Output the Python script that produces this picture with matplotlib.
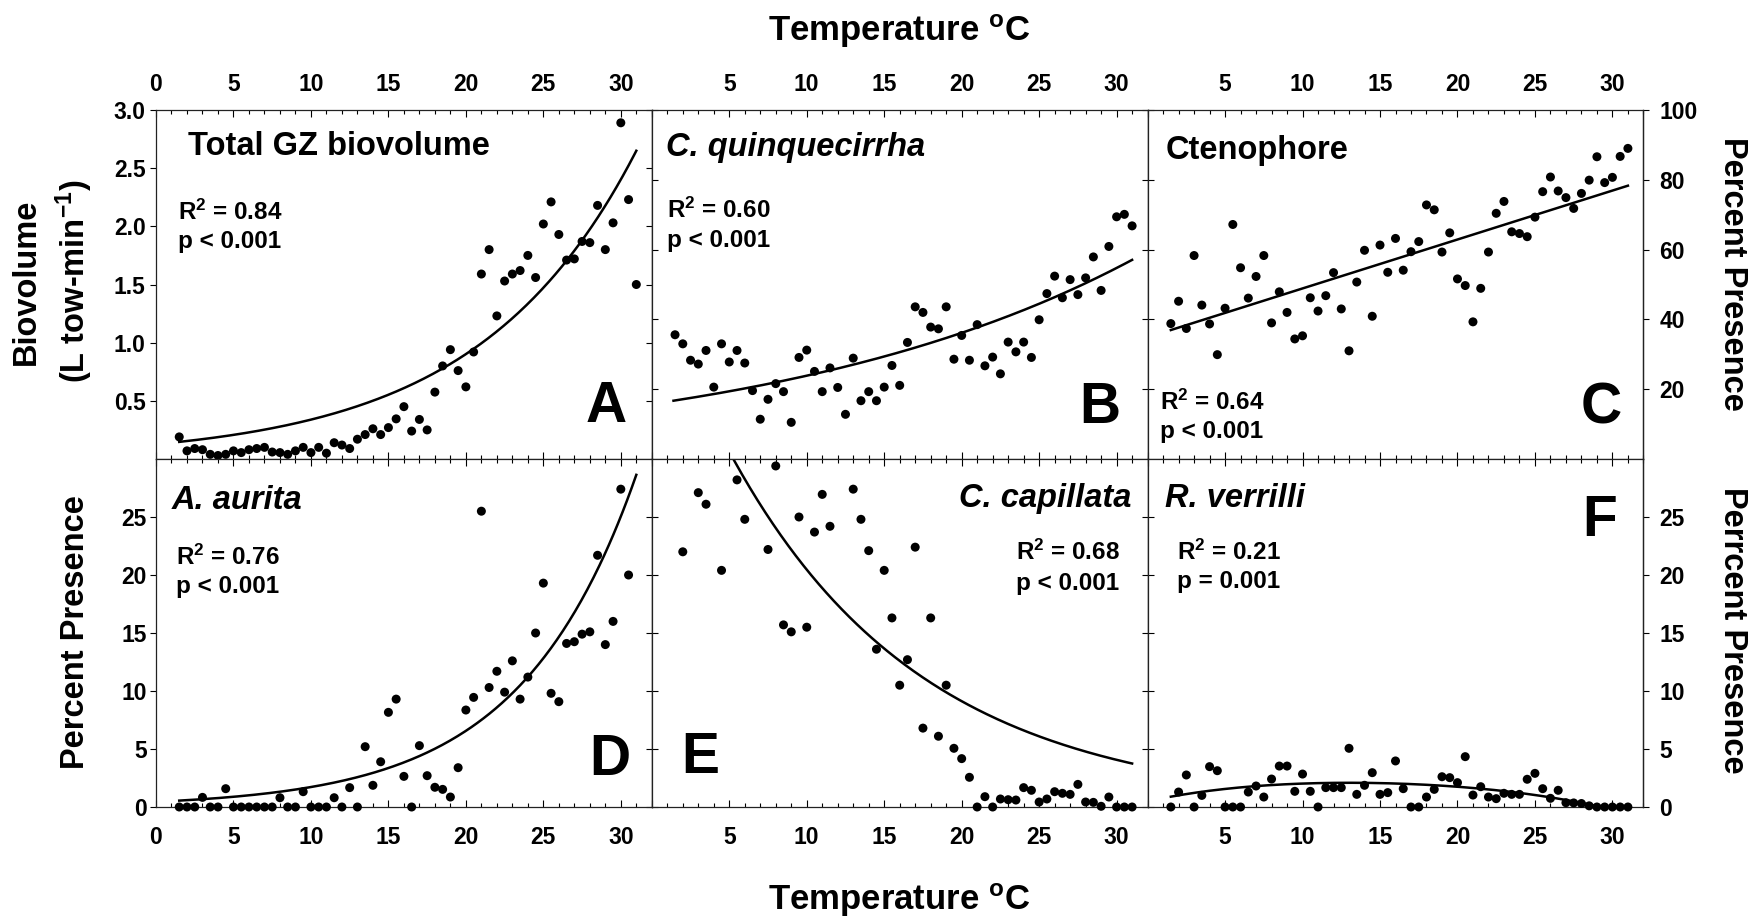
import numpy as np
import matplotlib
matplotlib.use('Agg')
import matplotlib.pyplot as plt
from matplotlib.ticker import MultipleLocator, FuncFormatter

plt.rcParams['font.family'] = 'Liberation Sans'
plt.rcParams['font.weight'] = 'bold'
plt.rcParams['mathtext.fontset'] = 'custom'
plt.rcParams['mathtext.rm'] = 'Liberation Sans:bold'
plt.rcParams['mathtext.it'] = 'Liberation Sans:italic:bold'
plt.rcParams['mathtext.bf'] = 'Liberation Sans:bold'
plt.rcParams['mathtext.default'] = 'rm'

# temperature bins (deg C)
temps = [1.5, 2.0, 2.5, 3.0, 3.5, 4.0, 4.5, 5.0, 5.5, 6.0,
         6.5, 7.0, 7.5, 8.0, 8.5, 9.0, 9.5, 10.0, 10.5, 11.0,
         11.5, 12.0, 12.5, 13.0, 13.5, 14.0, 14.5, 15.0, 15.5, 16.0,
         16.5, 17.0, 17.5, 18.0, 18.5, 19.0, 19.5, 20.0, 20.5, 21.0,
         21.5, 22.0, 22.5, 23.0, 23.5, 24.0, 24.5, 25.0, 25.5, 26.0,
         26.5, 27.0, 27.5, 28.0, 28.5, 29.0, 29.5, 30.0, 30.5, 31.0]

nan = np.nan

# A: total GZ biovolume (L tow-min-1)
gz_biovol = [0.19, 0.07, 0.09, 0.08, 0.04, 0.03, 0.04, 0.07, 0.055, 0.08,
             0.09, 0.10, 0.06, 0.055, 0.04, 0.07, 0.10, 0.055, 0.10, 0.05,
             0.14, 0.12, 0.09, 0.17, 0.21, 0.26, 0.21, 0.27, 0.345, 0.45,
             0.24, 0.34, 0.25, 0.575, 0.80, 0.94, 0.76, 0.62, 0.92, 1.59,
             1.80, 1.23, 1.53, 1.59, 1.62, 1.75, 1.56, 2.02, 2.21, 1.93,
             1.71, 1.72, 1.87, 1.86, 2.18, 1.80, 2.03, 2.89, 2.23, 1.50]

# B: C. quinquecirrha percent presence
cq_pct = [35.6, 33.0, 28.3, 27.2, 31.1, 20.6, 33.0, 27.8, 31.1, 27.5,
          19.6, 11.4, 17.1, 21.6, 19.3, 10.5, 29.1, 31.2, 25.1, 19.3,
          26.1, 20.5, 12.8, 28.9, 16.7, 19.3, 16.7, 20.6, 26.8, 21.1,
          33.4, 43.6, 42.0, 37.8, 37.3, 43.6, 28.6, 35.4, 28.3, 38.5,
          26.7, 29.2, 24.4, 33.5, 30.7, 33.5, 29.1, 39.9, 47.4, 52.4,
          46.2, 51.4, 47.1, 51.9, 57.9, 48.3, 60.9, 69.4, 70.1, 66.8]

# C: ctenophore percent presence
cten_pct = [38.8, 45.2, 37.4, 58.3, 44.1, 38.7, 29.9, 43.2, 67.2, 54.8,
            46.1, 52.3, 58.3, 39.0, 47.9, 42.0, 34.4, 35.3, 46.2, 42.4,
            46.8, 53.4, 43.0, 31.0, 50.7, 59.8, 40.9, 61.3, 53.5, 63.2,
            54.1, 59.4, 62.3, 72.8, 71.4, 59.3, 64.8, 51.6, 49.7, 39.3,
            48.9, 59.3, 70.4, 73.8, 65.1, 64.6, 63.7, 69.3, 76.6, 80.8,
            76.8, 74.9, 71.8, 76.1, 79.9, 86.6, 79.2, 80.7, 86.7, 89.0]

# D: A. aurita percent presence
aa_pct = [0, 0, 0, 0.83, 0, 0, 1.58, 0, 0, 0,
          0, 0, 0, 0.8, 0, 0, 1.32, 0, 0, 0,
          0.8, 0, 1.67, 0, 5.2, 1.87, 3.9, 8.16, 9.3, 2.64,
          0, 5.29, 2.7, 1.70, 1.52, 0.86, 3.39, 8.36, 9.45, 25.5,
          10.3, 11.7, 9.9, 12.6, 9.3, 11.2, 15.0, 19.3, 9.8, 9.08,
          14.1, 14.25, 14.9, 15.1, 21.7, 14.0, 16.0, 27.4, 20.0, nan]

# E: C. capillata percent presence (nan = off scale)
cc_pct = [nan, 22.0, nan, 27.1, 26.1, nan, 20.4, nan, 28.2, 24.8,
          nan, nan, 22.2, 29.4, 15.7, 15.1, 25.0, 15.5, 23.7, 26.95,
          24.2, nan, nan, 27.4, 24.8, 22.1, 13.6, 20.4, 16.3, 10.5,
          12.7, 22.4, 6.8, 16.3, 6.1, 10.5, 5.06, 4.17, 2.56, 0,
          0.89, 0, 0.69, 0.63, 0.6, 1.67, 1.44, 0.43, 0.69, 1.32,
          1.18, 1.09, 1.95, 0.43, 0.4, 0.06, 0.86, 0, 0, 0]

# F: R. verrilli percent presence
rv_pct = [0, 1.29, 2.76, 0, 1.0, 3.48, 3.13, 0, 0, 0,
          1.29, 1.81, 0.86, 2.41, 3.53, 3.53, 1.35, 2.84, 1.35, 0,
          1.67, 1.67, 1.67, 5.06, 1.09, 1.87, 2.96, 1.09, 1.24, 3.97,
          1.58, 0, 0, 0.86, 1.52, 2.61, 2.53, 2.1, 4.34, 1.03,
          1.75, 0.86, 0.72, 1.18, 1.09, 1.09, 2.39, 2.9, 1.58, 0.75,
          1.44, 0.37, 0.35, 0.3, 0.1, 0, 0, 0, 0, 0]

# regression parameters
fit_a = (0.127, 0.098)      # y = a*exp(b*T)
fit_b = (15.76, 0.0415)
fit_c = (34.85, 1.402)      # y = a + b*T
fit_d = (0.451, 0.1339)
fit_e = (45.9, -0.0808)
fit_f = (2.06, -0.02782, -0.0069037, 1.649e-5, -7.4305e-6)  # poly in (T-15)

r2_text = ['R$^{2}$ = 0.84', 'R$^{2}$ = 0.60', 'R$^{2}$ = 0.64',
           'R$^{2}$ = 0.76', 'R$^{2}$ = 0.68', 'R$^{2}$ = 0.21']
p_text = ['p < 0.001', 'p < 0.001', 'p < 0.001',
          'p < 0.001', 'p < 0.001', 'p = 0.001']

fig = plt.figure(figsize=(17.63, 9.17), dpi=100)

L0 = 156 / 1763
W = 495.8 / 1763
top_b, top_h = 458 / 917, 349 / 917
bot_b, bot_h = 110 / 917, 348 / 917

axes = []
for row in range(2):
    for col in range(3):
        if row == 0:
            ax = fig.add_axes([L0 + col * W, top_b, W, top_h])
        else:
            ax = fig.add_axes([L0 + col * W, bot_b, W, bot_h])
        axes.append(ax)

TICK_FS = 16.5


def style(ax, ylim, yt, ylabs, top_row, col, zero_x, lpad=4):
    ax.set_xlim(0, 32)
    ax.set_ylim(*ylim)
    for s in ax.spines.values():
        s.set_linewidth(0.9)
        s.set_color('#222222')
    ax.xaxis.set_major_locator(MultipleLocator(5))
    ax.xaxis.set_minor_locator(MultipleLocator(1))
    ax.xaxis.set_major_formatter(FuncFormatter(
        lambda v, p: '' if (v == 0 and not zero_x) or v > 30 else '%d' % v))
    ax.tick_params(axis='x', which='both', direction='in', top=True, bottom=True,
                   labeltop=top_row, labelbottom=not top_row, labelsize=TICK_FS,
                   width=0.8, pad=10 if top_row else 14)
    ax.tick_params(axis='x', which='major', length=5)
    ax.tick_params(axis='x', which='minor', length=3)
    ax.set_yticks(yt)
    ax.set_yticklabels(ylabs if col == 0 else [''] * len(yt))
    ax.tick_params(axis='y', direction='out' if col == 0 else 'in',
                   left=True, right=False, labelsize=TICK_FS, length=4.5,
                   width=0.8, pad=lpad)
    sec = ax.secondary_yaxis('right')
    sec.set_yticks(yt)
    sec.set_yticklabels(ylabs if col == 2 else [''] * len(yt))
    sec.tick_params(axis='y', direction='out' if col == 2 else 'in',
                    labelsize=TICK_FS, length=4.5, width=0.8, pad=7)
    sec.spines['right'].set_linewidth(0.9)
    sec.spines['right'].set_color('#222222')


bio_t = [0.5, 1.0, 1.5, 2.0, 2.5, 3.0]
pct_t = [20, 40, 60, 80, 100]
low_t = [0, 5, 10, 15, 20, 25]

style(axes[0], (0, 3.0), bio_t, ['%.1f' % v for v in bio_t], True, 0, True, lpad=3)
style(axes[1], (0, 100), pct_t, [str(v) for v in pct_t], True, 1, False)
style(axes[2], (0, 100), pct_t, [str(v) for v in pct_t], True, 2, False)
style(axes[3], (0, 30), low_t, [str(v) for v in low_t], False, 0, True, lpad=2)
style(axes[4], (0, 30), low_t, [str(v) for v in low_t], False, 1, False)
style(axes[5], (0, 30), low_t, [str(v) for v in low_t], False, 2, False)

series = [gz_biovol, cq_pct, cten_pct, aa_pct, cc_pct, rv_pct]
for ax, vals in zip(axes, series):
    ax.scatter(temps, vals, s=42, c='black', edgecolors='none', zorder=3,
               clip_on=False)

tt = np.linspace(1.5, 31.0, 300)
axes[0].plot(tt, fit_a[0] * np.exp(fit_a[1] * tt), 'k-', lw=1.8)
tb = np.linspace(1.4, 31.0, 300)
axes[1].plot(tb, fit_b[0] * np.exp(fit_b[1] * tb), 'k-', lw=1.8)
axes[2].plot(tt, fit_c[0] + fit_c[1] * tt, 'k-', lw=1.8)
axes[3].plot(tt, fit_d[0] * np.exp(fit_d[1] * tt), 'k-', lw=1.8)
axes[4].plot(tt, fit_e[0] * np.exp(fit_e[1] * tt), 'k-', lw=1.8)
tf = np.linspace(1.5, 29.2, 300)
sf = tf - 15
axes[5].plot(tf, sum(c * sf ** i for i, c in enumerate(fit_f)), 'k-', lw=1.8)

# panel titles
titles = [('Total GZ biovolume', 0.0645, 0.871, 'left', 'normal'),
          ('C. quinquecirrha', 0.029, 0.867, 'left', 'italic'),
          ('Ctenophore', 0.036, 0.860, 'left', 'normal'),
          ('A. aurita', 0.032, 0.855, 'left', 'italic'),
          ('C. capillata', 0.968, 0.862, 'right', 'italic'),
          ('R. verrilli', 0.036, 0.862, 'left', 'italic')]
for ax, (t, x, y, ha, st) in zip(axes, titles):
    ax.text(x, y, t, transform=ax.transAxes, ha=ha, va='baseline',
            fontsize=23.5, fontweight='bold', fontstyle=st)

# stats: x, baseline of R2 line, baseline of p line
stat_pos = [(0.044, 0.685, 0.604), (0.031, 0.690, 0.608),
            (0.026, 0.142, 0.059), (0.040, 0.695, 0.614),
            (0.734, 0.710, 0.624), (0.060, 0.710, 0.628)]
for ax, r2, pv, (x, y1, y2) in zip(axes, r2_text, p_text, stat_pos):
    ax.text(x, y1, r2, transform=ax.transAxes, ha='left', va='baseline',
            fontsize=17.5, fontweight='bold')
    ax.text(x, y2, pv, transform=ax.transAxes, ha='left', va='baseline',
            fontsize=17.5, fontweight='bold')

letters = [('A', 0.950, 0.107, 'right'), ('B', 0.946, 0.102, 'right'),
           ('C', 0.957, 0.102, 'right'), ('D', 0.956, 0.092, 'right'),
           ('E', 0.059, 0.097, 'left'), ('F', 0.947, 0.779, 'right')]
for ax, (t, x, y, ha) in zip(axes, letters):
    ax.text(x, y, t, transform=ax.transAxes, ha=ha, va='baseline',
            fontsize=41, fontweight='bold')

# axis titles
fig.text(0.51, 1 - 31 / 917, 'Temperature $^{o}$C', ha='center', va='center',
         fontsize=25, fontweight='bold')
fig.text(0.51, 1 - 900 / 917, 'Temperature $^{o}$C', ha='center', va='center',
         fontsize=25, fontweight='bold')
fig.text(26 / 1763, 1 - 282 / 917, 'Biovolume', rotation=90, ha='center',
         va='center', fontsize=23.5, fontweight='bold')
fig.text(74 / 1763, 1 - 281 / 917, '(L tow-min$^{-1}$)', rotation=90,
         ha='center', va='center', fontsize=23.5, fontweight='bold')
fig.text(76 / 1763, 1 - 632 / 917, 'Percent Presence', rotation=90,
         ha='center', va='center', fontsize=23.5, fontweight='bold')
fig.text(1732 / 1763, 1 - 274 / 917, 'Percent Presence', rotation=270,
         ha='center', va='center', fontsize=23.5, fontweight='bold')
fig.text(1732 / 1763, 1 - 630 / 917, 'Perrcent Presence', rotation=270,
         ha='center', va='center', fontsize=23.5, fontweight='bold')

fig.savefig('out.png', dpi=100)
